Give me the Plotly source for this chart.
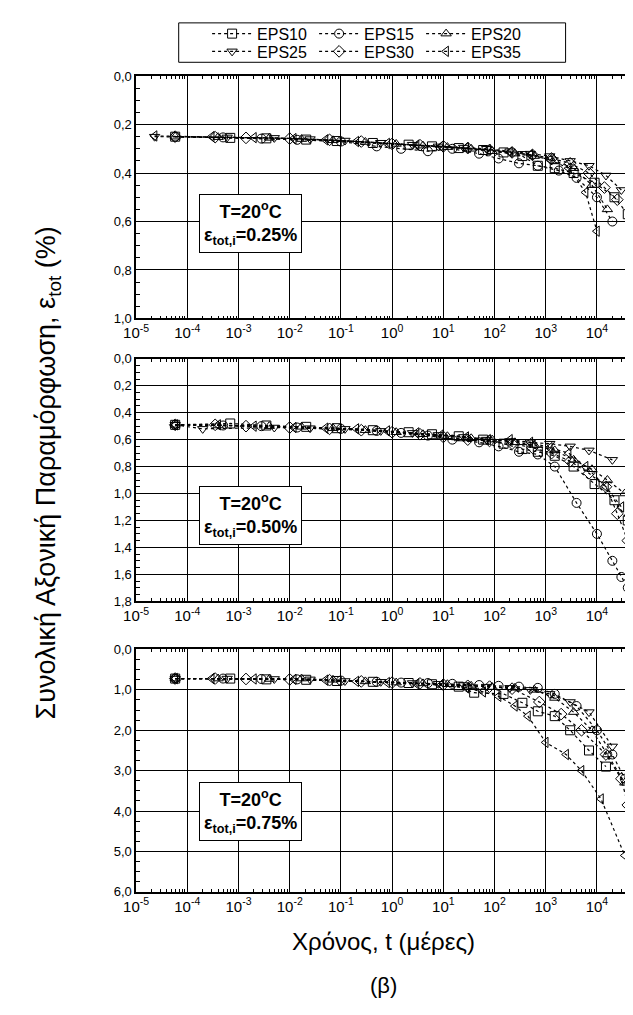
import plotly.graph_objects as go

names = ["EPS10", "EPS15", "EPS20", "EPS25", "EPS30", "EPS35"]
symbols = ["square-open", "circle-open", "triangle-up-open", "triangle-down-open", "diamond-open", "triangle-left-open"]

# x tick labels (decades)
x_tickvals = [1e-5, 1e-4, 1e-3, 1e-2, 1e-1, 1e0, 1e1, 1e2, 1e3, 1e4]
x_ticktext = ["10<sup>-5</sup>", "10<sup>-4</sup>", "10<sup>-3</sup>", "10<sup>-2</sup>", "10<sup>-1</sup>",
              "10<sup>0</sup>", "10<sup>1</sup>", "10<sup>2</sup>", "10<sup>3</sup>", "10<sup>4</sup>"]

# ---------------- Panel 1 : eps_tot,i = 0.25 % ----------------
p1_t = {
    "EPS10": [5.8e-5, 6.9e-4, 3.5e-3, 2.1e-2, 8.3e-2, 0.42, 2.1, 6, 20, 60, 150, 350, 700, 1500, 3500, 9000, 2.2e4, 4e4],
    "EPS15": [5.8e-5, 5e-4, 2.8e-3, 1.4e-2, 0.1, 0.5, 1.5, 5, 15, 50, 120, 300, 700, 1800, 4000, 1e4, 2e4],
    "EPS20": [5.8e-5, 4e-4, 4e-3, 1.7e-2, 0.07, 0.3, 1.2, 4, 12, 35, 90, 250, 600, 1500, 3500, 8000, 1.6e4],
    "EPS25": [2.3e-5, 6e-4, 5e-3, 2.5e-2, 0.12, 0.6, 2.5, 8, 25, 70, 200, 500, 1200, 3000, 7000, 1.5e4, 3e4],
    "EPS30": [5.8e-5, 3.5e-4, 1.4e-3, 1e-2, 6e-2, 0.25, 1, 3.5, 10, 30, 80, 220, 550, 1300, 3000, 7000, 1.4e4, 2.5e4],
    "EPS35": [2.3e-5, 3e-4, 2e-3, 1.2e-2, 5e-2, 0.2, 0.8, 3, 9, 28, 75, 200, 500, 1200, 2800, 6000, 1e4],
}
p1_e = {
    "EPS10": [0.25, 0.255, 0.257, 0.262, 0.268, 0.276, 0.283, 0.29, 0.297, 0.305, 0.315, 0.33, 0.37, 0.38, 0.40, 0.44, 0.50, 0.57],
    "EPS15": [0.25, 0.253, 0.258, 0.263, 0.27, 0.29, 0.30, 0.31, 0.30, 0.32, 0.34, 0.36, 0.37, 0.39, 0.42, 0.50, 0.60],
    "EPS20": [0.25, 0.252, 0.255, 0.26, 0.265, 0.272, 0.28, 0.287, 0.293, 0.30, 0.31, 0.32, 0.33, 0.35, 0.38, 0.45, 0.55],
    "EPS25": [0.25, 0.253, 0.255, 0.26, 0.266, 0.275, 0.283, 0.29, 0.295, 0.30, 0.31, 0.32, 0.33, 0.35, 0.37, 0.41, 0.47],
    "EPS30": [0.25, 0.252, 0.255, 0.258, 0.263, 0.27, 0.28, 0.285, 0.29, 0.297, 0.305, 0.315, 0.325, 0.34, 0.36, 0.40, 0.46, 0.51],
    "EPS35": [0.247, 0.25, 0.254, 0.258, 0.263, 0.27, 0.278, 0.285, 0.29, 0.296, 0.304, 0.314, 0.325, 0.345, 0.38, 0.48, 0.64],
}

# ---------------- Panel 2 : eps_tot,i = 0.50 % ----------------
p2_t = {
    "EPS10": [5.8e-5, 6.9e-4, 3.5e-3, 2.1e-2, 8.3e-2, 0.42, 2.1, 6, 20, 60, 150, 350, 700, 1500, 3500, 9000, 2.2e4, 4e4],
    "EPS15": [5.8e-5, 5e-4, 2.8e-3, 1.4e-2, 0.1, 0.5, 1.5, 5, 15, 50, 120, 300, 700, 1500, 4000, 1e4, 2e4, 3e4, 4e4],
    "EPS20": [5.8e-5, 4e-4, 4e-3, 1.7e-2, 0.07, 0.3, 1.2, 4, 12, 35, 90, 250, 600, 1500, 3500, 8000, 1.6e4, 3.5e4],
    "EPS25": [5.8e-5, 2e-4, 5e-3, 2.5e-2, 0.12, 0.6, 2.5, 8, 25, 70, 200, 500, 1200, 3000, 7000, 2e4],
    "EPS30": [5.8e-5, 3.5e-4, 1.4e-3, 1e-2, 6e-2, 0.25, 1, 3.5, 10, 30, 80, 220, 550, 1300, 3000, 7000, 1.5e4, 2.5e4, 4e4],
    "EPS35": [5.8e-5, 4e-4, 2e-3, 1.2e-2, 5e-2, 0.2, 0.8, 3, 9, 28, 75, 200, 500, 1200, 2800, 6000, 1.5e4, 3e4],
}
p2_e = {
    "EPS10": [0.49, 0.48, 0.495, 0.505, 0.515, 0.53, 0.545, 0.56, 0.575, 0.60, 0.63, 0.67, 0.69, 0.72, 0.80, 0.93, 1.05, 1.20],
    "EPS15": [0.49, 0.495, 0.50, 0.51, 0.52, 0.535, 0.55, 0.57, 0.60, 0.62, 0.65, 0.69, 0.71, 0.80, 1.07, 1.30, 1.50, 1.62, 1.70],
    "EPS20": [0.49, 0.495, 0.50, 0.505, 0.515, 0.53, 0.545, 0.56, 0.575, 0.59, 0.60, 0.62, 0.64, 0.68, 0.75, 0.82, 0.90, 1.00],
    "EPS25": [0.49, 0.52, 0.51, 0.515, 0.52, 0.535, 0.55, 0.565, 0.58, 0.60, 0.61, 0.62, 0.63, 0.65, 0.68, 0.75],
    "EPS30": [0.49, 0.49, 0.50, 0.51, 0.52, 0.53, 0.545, 0.56, 0.58, 0.60, 0.61, 0.63, 0.66, 0.70, 0.76, 0.85, 0.95, 1.15, 1.35],
    "EPS35": [0.49, 0.49, 0.50, 0.51, 0.515, 0.52, 0.535, 0.55, 0.565, 0.58, 0.60, 0.60, 0.62, 0.66, 0.70, 0.80, 0.95, 1.10],
}

# ---------------- Panel 3 : eps_tot,i = 0.75 % ----------------
p3_t = {
    "EPS10": [5.8e-5, 6.9e-4, 3.5e-3, 2.1e-2, 8.3e-2, 0.42, 2.1, 6, 20, 40, 150, 350, 700, 1500, 3000, 7000, 1.5e4],
    "EPS15": [5.8e-5, 5e-4, 2.8e-3, 1.4e-2, 0.1, 0.5, 1.5, 5, 15, 50, 120, 300, 700, 1500, 4000, 1e4, 2e4, 3.5e4],
    "EPS20": [5.8e-5, 4e-4, 4e-3, 1.7e-2, 0.07, 0.3, 1.2, 4, 12, 35, 90, 250, 600, 1500, 3500, 8000, 1.6e4, 3.5e4],
    "EPS25": [5.8e-5, 6e-4, 5e-3, 2.5e-2, 0.12, 0.6, 2.5, 8, 25, 70, 200, 500, 1200, 3000, 7000, 2e4],
    "EPS30": [5.8e-5, 3.5e-4, 1.4e-3, 1e-2, 6e-2, 0.25, 1, 3.5, 10, 30, 80, 220, 750, 2000, 5000, 1.5e4, 3e4, 4e4],
    "EPS35": [5.8e-5, 3e-4, 2e-3, 1.2e-2, 5e-2, 0.2, 0.8, 3, 9, 28, 60, 120, 250, 450, 1000, 2500, 5000, 1.2e4, 3.5e4],
}
p3_e = {
    "EPS10": [0.72, 0.72, 0.74, 0.75, 0.78, 0.80, 0.83, 0.86, 0.92, 1.07, 1.10, 1.32, 1.53, 1.65, 2.00, 2.50, 2.90],
    "EPS15": [0.72, 0.72, 0.73, 0.74, 0.77, 0.80, 0.82, 0.83, 0.85, 0.88, 0.90, 0.92, 0.95, 1.10, 1.40, 2.00, 2.60, 3.20],
    "EPS20": [0.72, 0.72, 0.73, 0.72, 0.75, 0.79, 0.82, 0.84, 0.86, 0.90, 0.93, 0.95, 1.00, 1.20, 1.55, 2.00, 2.60, 3.30],
    "EPS25": [0.72, 0.72, 0.73, 0.74, 0.78, 0.80, 0.83, 0.85, 0.88, 0.92, 0.95, 1.00, 1.10, 1.30, 1.55, 2.40],
    "EPS30": [0.72, 0.72, 0.73, 0.74, 0.76, 0.79, 0.82, 0.84, 0.87, 0.90, 0.92, 0.97, 1.30, 1.60, 2.00, 2.60, 3.20, 3.85],
    "EPS35": [0.72, 0.72, 0.73, 0.74, 0.76, 0.79, 0.82, 0.85, 0.88, 0.95, 1.05, 1.16, 1.40, 1.65, 2.30, 2.60, 3.00, 3.70, 5.10],
}

panel_labels = ["0.25%", "0.50%", "0.75%"]
x_range_log = [-5, 4.65]

W, H = 633, 1015
FONT = "Liberation Sans, Arial, sans-serif"


def px(v):
    return v / W


def py(v):
    return 1 - v / H


fig = go.Figure()

panels = [
    dict(top=62, bottom=308, yr=[1.0, 0.0], dtick=0.2, minor=0.05, box=212),
    dict(top=349, bottom=595, yr=[1.8, 0.0], dtick=0.2, minor=0.05, box=508),
    dict(top=644, bottom=890, yr=[6.0, 0.0], dtick=1.0, minor=0.25, box=808),
]
x_dom = [px(117.5), px(622)]

data_t = [p1_t, p2_t, p3_t]
data_e = [p1_e, p2_e, p3_e]

for i, pan in enumerate(panels):
    xa = "x" if i == 0 else f"x{i+1}"
    ya = "y" if i == 0 else f"y{i+1}"
    for j, nm in enumerate(names):
        tr = go.Scatter(
            x=data_t[i][nm], y=data_e[i][nm], name=nm,
            mode="lines+markers",
            line=dict(color="black", width=1.2, dash="dot"),
            marker=dict(symbol=symbols[j], size=9, color="black",
                        line=dict(color="black", width=1)),
            xaxis=xa, yaxis=ya, showlegend=(i == 0),
        )
        if i == 0:
            tr.legend = "legend" if j < 3 else "legend2"
        fig.add_trace(tr)

    axis_common = dict(
        showline=True, linecolor="black", linewidth=1.5, mirror="allticks",
        ticks="inside", ticklen=6, tickwidth=1, tickcolor="black",
        showgrid=True, gridcolor="black", gridwidth=1, zeroline=False,
    )
    xkey = "xaxis" if i == 0 else f"xaxis{i+1}"
    ykey = "yaxis" if i == 0 else f"yaxis{i+1}"
    fig.layout[xkey] = dict(
        type="log", range=x_range_log,
        tickmode="array", tickvals=x_tickvals, ticktext=x_ticktext,
        tickfont=dict(family=FONT, size=15, color="black"),
        domain=x_dom, anchor=ya,
        minor=dict(ticks="inside", ticklen=3, tickcolor="black", dtick="D1", showgrid=False),
        **axis_common,
    )
    fig.layout[ykey] = dict(
        range=pan["yr"], dtick=pan["dtick"], tick0=0, tickformat=".1f",
        tickfont=dict(family=FONT, size=13, color="black"),
        domain=[py(pan["bottom"]), py(pan["top"])], anchor=xa,
        minor=dict(ticks="inside", ticklen=4, tickcolor="black", dtick=pan["minor"], showgrid=False),
        **axis_common,
    )
    fig.add_annotation(
        xref="paper", yref="paper", x=px(234), y=py(pan["box"]),
        xanchor="center", yanchor="middle",
        text="<b>T=20<sup>o</sup>C</b><br><b>ε<sub>tot,i</sub>=" + panel_labels[i] + "</b>",
        showarrow=False, bgcolor="white", bordercolor="black", borderwidth=1, borderpad=4,
        font=dict(family=FONT, size=18, color="black"), align="center",
    )

# axis titles
fig.add_annotation(
    xref="paper", yref="paper", x=px(28), y=py(465),
    xanchor="center", yanchor="middle",
    text="Συνολική Αξονική Παραμόρφωση, ε<sub>tot</sub> (%)", textangle=-90,
    showarrow=False, font=dict(family=FONT, size=27, color="black"),
)
fig.add_annotation(
    xref="paper", yref="paper", x=px(370), y=py(940),
    xanchor="center", yanchor="middle",
    text="Χρόνος, t (μέρες)", showarrow=False,
    font=dict(family=FONT, size=24, color="black"),
)
fig.add_annotation(
    xref="paper", yref="paper", x=px(370), y=py(985),
    xanchor="center", yanchor="middle",
    text="(β)", showarrow=False,
    font=dict(family=FONT, size=22, color="black"),
)

# legend frame
fig.add_shape(type="rect", xref="paper", yref="paper",
              x0=px(161), x1=px(556), y0=py(48), y1=py(8),
              line=dict(color="black", width=1), fillcolor="white", layer="below")

leg_common = dict(orientation="h", xanchor="left", yanchor="middle",
                  font=dict(family=FONT, size=16, color="black"),
                  bgcolor="rgba(0,0,0,0)", borderwidth=0,
                  entrywidth=52, entrywidthmode="pixels", itemwidth=40,
                  tracegroupgap=0)

fig.update_layout(
    width=W, height=H,
    margin=dict(l=0, r=0, t=0, b=0),
    paper_bgcolor="white", plot_bgcolor="white",
    separators=",.",
    legend=dict(x=px(190), y=py(19), **leg_common),
    legend2=dict(x=px(190), y=py(37), **leg_common),
    font=dict(family=FONT, color="black"),
)

fig.write_html("out.html")
